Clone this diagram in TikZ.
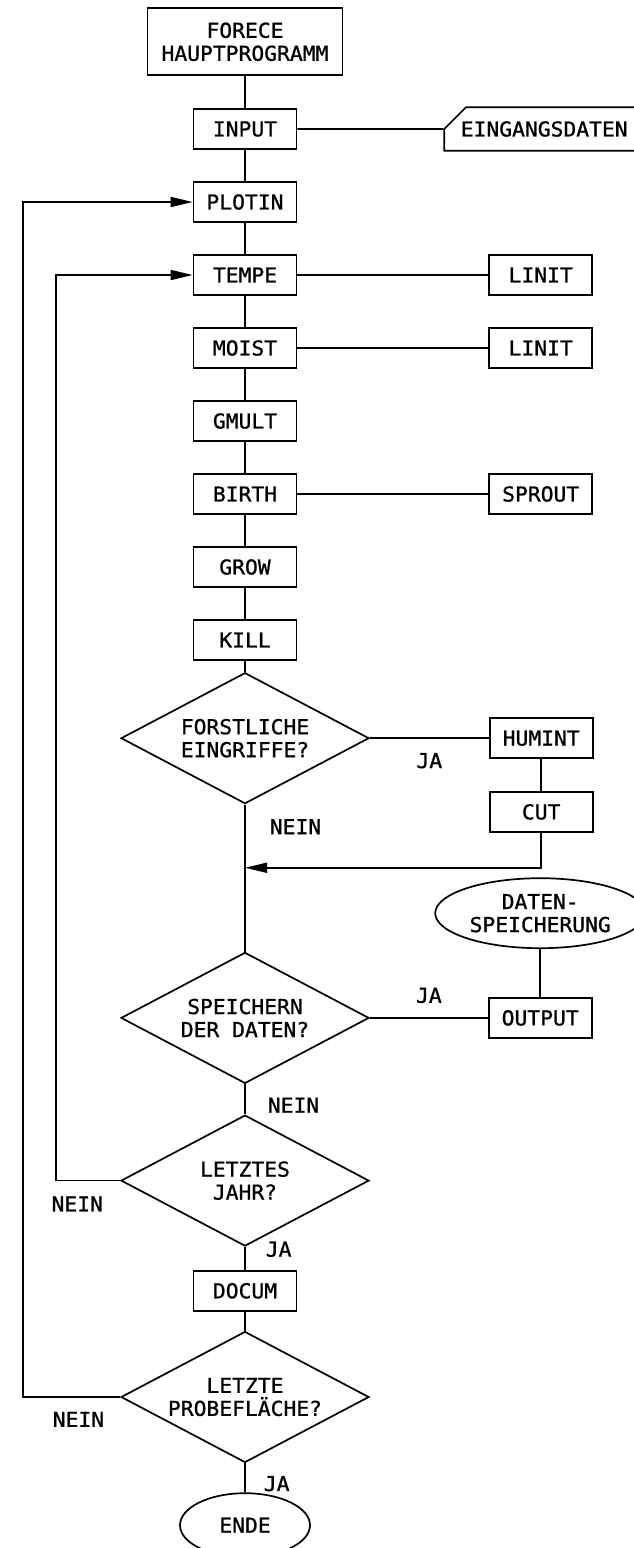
\documentclass[tikz,border=0pt]{standalone}
\usepackage{fontspec}
\setmainfont[FakeStretch=1.04,FakeBold=1]{DejaVu Sans Mono}
\usetikzlibrary{arrows.meta,positioning,shapes.geometric,shapes.misc}

\begin{document}
\begin{tikzpicture}[x=1pt,y=-1pt,line width=1.7pt,
  font=\fontsize{20.5}{23}\selectfont,
  prog/.style={draw,rectangle,minimum width=103pt,minimum height=40pt,inner sep=0pt,align=center},
  frage/.style={draw,diamond,aspect=1.9,minimum width=248pt,minimum height=131pt,inner sep=0pt,align=center},
  datei/.style={draw,ellipse,inner sep=0pt,align=center},
  karte/.style={draw,chamfered rectangle,chamfered rectangle corners=north west,
    chamfered rectangle xsep=20pt,chamfered rectangle ysep=14pt,
    minimum width=200pt,minimum height=40pt,inner sep=0pt},
  pfeil/.style={-{Triangle[length=22pt,width=10pt]}},
  lab/.style={inner sep=0pt}]
\useasboundingbox (0,0) rectangle (633,1548);
% Hauptkette
\foreach \name/\txt [count=\i] in {input/INPUT,plotin/PLOTIN,tempe/TEMPE,moist/MOIST,gmult/GMULT,birth/BIRTH,grow/GROW,kill/KILL}
  \node[prog] (\name) at (245,{129+73*(\i-1)}) {\txt};
\node[prog,minimum width=195pt,minimum height=67pt,above=32pt of input] (fore) {FORECE\\HAUPTPROGRAMM};
\node[frage,below=11pt of kill] (frage1) {FORSTLICHE\\EINGRIFFE?};
\node[frage,below=147pt of frage1] (frage2) {SPEICHERN\\DER DATEN?};
\node[frage,below=30pt of frage2] (frage3) {LETZTES\\JAHR?};
\node[prog,below=23pt of frage3] (docum) {DOCUM};
\node[frage,below=19pt of docum] (frage4) {LETZTE\\PROBEFLÄCHE?};
\node[datei,minimum width=130pt,minimum height=64pt,below=29pt of frage4] (ende) {ENDE};
% Unterprogramme
\node[karte,right=146pt of input] (eing) {EINGANGSDATEN};
\node[prog,right=191pt of tempe] (linit1) {LINIT};
\node[prog,right=191pt of moist] (linit2) {LINIT};
\node[prog,right=191pt of birth] (sprout) {SPROUT};
\node[prog,right=119pt of frage1] (humint) {HUMINT};
\node[prog,below=32pt of humint] (cut) {CUT};
\node[prog,right=118pt of frage2] (output) {OUTPUT};
\node[datei,minimum width=210pt,minimum height=70pt,above=48pt of output] (speicher) {DATEN-\\SPEICHERUNG};
\coordinate[below=35pt of cut.south] (knick);
\coordinate (merge) at (frage1.south |- knick);
% Verbindungen
\foreach \a/\b in {fore/input,input/plotin,plotin/tempe,tempe/moist,moist/gmult,gmult/birth,birth/grow,grow/kill,kill/frage1,
  input/eing,tempe/linit1,moist/linit2,birth/sprout,humint/cut,speicher/output,docum/frage4}
  \draw (\a) -- (\b);
\draw (frage1) -- node[lab,below=14pt] {JA} (humint);
\draw[pfeil] (cut) -- (knick) -- (merge);
\draw (frage1) -- node[lab,pos=0.35,right=24pt] {NEIN} (merge) -- (frage2);
\draw (frage2) -- node[lab,above=14pt] {JA} (output);
\draw (frage2) -- node[lab,pos=0.7,right=22pt] {NEIN} (frage3);
\draw (frage3) -- node[lab,pos=0.1,right=20pt] {JA} (docum);
\draw (frage4) -- node[lab,pos=0.7,right=18pt] {JA} (ende);
% Schleifen
\draw[pfeil] (frage3.west) -- node[lab,below=15pt,pos=0.67] {NEIN} ++(-64,0) |- (tempe);
\draw[pfeil] (frage4.west) -- node[lab,below=14pt,pos=0.43] {NEIN} ++(-97,0) |- (plotin);
\end{tikzpicture}
\end{document}
